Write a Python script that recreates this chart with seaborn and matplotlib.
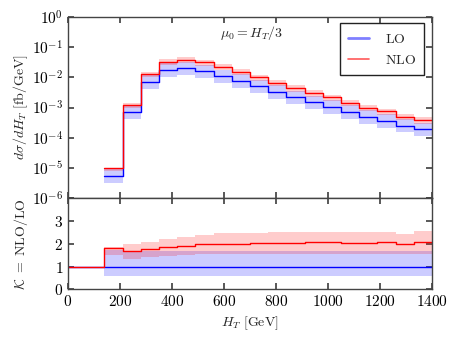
import numpy as np
import pandas as pd
import matplotlib
matplotlib.use("Agg")
import matplotlib.pyplot as plt
from matplotlib.lines import Line2D
import seaborn as sns

# ---------------- data ----------------
bin_edges = [140, 210, 280, 350, 420, 490, 560, 630, 700, 770, 840,
             910, 980, 1050, 1120, 1190, 1260, 1330, 1400]
lo_central = [5.3e-6, 7.2e-4, 7.1e-3, 1.77e-2, 2.0e-2, 1.6e-2, 1.1e-2, 7.7e-3,
              5.0e-3, 3.3e-3, 2.2e-3, 1.5e-3, 1.05e-3, 7.2e-4, 4.9e-4, 3.6e-4,
              2.5e-4, 1.9e-4]
# LO scale band relative to LO central
lo_band_up = [1.71, 1.67, 1.70, 1.68, 1.68, 1.67, 1.66, 1.66, 1.66, 1.66, 1.66,
              1.66, 1.66, 1.66, 1.66, 1.66, 1.66, 1.66]
lo_band_dn = [0.60] * 18
# K factor = NLO/LO and its band
k_central = [1.81, 1.69, 1.78, 1.86, 1.92, 1.97, 1.99, 2.00, 2.02, 2.03, 2.03,
             2.06, 2.06, 2.04, 2.03, 2.07, 2.00, 2.09]
k_band_up = [1.84, 1.97, 2.09, 2.22, 2.31, 2.39, 2.45, 2.47, 2.49, 2.50, 2.50,
             2.53, 2.52, 2.50, 2.50, 2.53, 2.44, 2.57]
k_band_dn = [1.49, 1.33, 1.42, 1.46, 1.50, 1.53, 1.55, 1.55, 1.55, 1.55, 1.55,
             1.55, 1.55, 1.55, 1.55, 1.55, 1.53, 1.55]
x_ticks = [0, 200, 400, 600, 800, 1000, 1200, 1400]
y_ticks_ratio = [0, 1, 2, 3]
labels = ["LO", "NLO"]

# ---------------- derived series ----------------
edges = np.array(bin_edges, dtype=float)
lo = np.array(lo_central)
lo_hi = lo * np.array(lo_band_up)
lo_lo = lo * np.array(lo_band_dn)
k = np.array(k_central)
nlo = lo * k
nlo_hi = lo * np.array(k_band_up)
nlo_lo = lo * np.array(k_band_dn)

def ext(a):
    return np.append(a, a[-1])

BLUE = "#0000ff"
RED = "#ff0000"

sns.set_theme(style="ticks")
plt.rcParams.update({
    "font.family": ["DejaVu Serif"],
    "mathtext.fontset": "cm",
    "axes.edgecolor": "#444444",
    "axes.linewidth": 1.0,
    "xtick.direction": "in",
    "ytick.direction": "in",
    "xtick.top": True,
    "ytick.right": True,
    "xtick.major.size": 4,
    "ytick.major.size": 4,
    "xtick.minor.size": 2,
    "ytick.minor.size": 2,
    "xtick.color": "#444444",
    "ytick.color": "#444444",
    "xtick.labelcolor": "black",
    "ytick.labelcolor": "black",
    "font.size": 10,
})

fig = plt.figure(figsize=(4.54, 3.41), dpi=100)
ax1 = fig.add_axes([0.1498, 0.419, 0.8017, 0.531])
ax2 = fig.add_axes([0.1498, 0.1516, 0.8017, 0.2674], sharex=ax1)

# ---------------- top panel ----------------
ax1.fill_between(edges, ext(lo_lo), ext(lo_hi), step="post",
                 color=BLUE, alpha=0.2, linewidth=0)
ax1.fill_between(edges, ext(nlo_lo), ext(nlo_hi), step="post",
                 color=RED, alpha=0.2, linewidth=0)
df_top = pd.DataFrame({"x": np.concatenate([edges, edges]),
                       "y": np.concatenate([ext(lo), ext(nlo)]),
                       "order": [labels[0]] * len(edges) + [labels[1]] * len(edges)})
sns.lineplot(data=df_top, x="x", y="y", hue="order", palette=[BLUE, RED],
             drawstyle="steps-post", estimator=None, sort=False,
             linewidth=1.0, legend=False, ax=ax1)
ax1.set_yscale("log")
ax1.set_ylim(1e-6, 1)
ax1.set_xlim(0, 1400)
ax1.set_yticks([10.0 ** e for e in range(-6, 1)])
ax1.set_yticklabels([r"$10^{%d}$" % e for e in range(-6, 1)])
ax1.tick_params(axis="x", labelbottom=False)
ax1.set_xlabel("")
ax1.set_ylabel(r"$d\sigma/dH_T\ [\mathrm{fb/GeV}]$", fontsize=10)
ax1.text(585, 0.22, r"$\mu_0 = H_T/3$", fontsize=10)
handles = [Line2D([], [], color=BLUE, alpha=0.5, lw=2.0),
           Line2D([], [], color=RED, alpha=0.65, lw=1.2)]
leg = ax1.legend(handles, [r"$\mathrm{%s}$" % l for l in labels],
                 loc="upper right", bbox_to_anchor=(0.978, 0.965),
                 borderaxespad=0, fancybox=False, framealpha=1,
                 edgecolor="#222222", fontsize=10, handlelength=1.5,
                 borderpad=0.6, labelspacing=0.5, handletextpad=1.1)
leg.get_frame().set_linewidth(1.0)

# ---------------- ratio panel ----------------
ax2.fill_between(edges, ext(np.array(lo_band_dn)), ext(np.array(lo_band_up)),
                 step="post", color=BLUE, alpha=0.2, linewidth=0)
ax2.fill_between(edges, ext(np.array(k_band_dn)), ext(np.array(k_band_up)),
                 step="post", color=RED, alpha=0.2, linewidth=0)
edges_r = np.concatenate([[0.0], edges])
k_r = np.concatenate([[1.0], ext(k)])
df_rat = pd.DataFrame({"x": np.concatenate([[0.0, 1400.0], edges_r]),
                       "y": np.concatenate([[1.0, 1.0], k_r]),
                       "order": [labels[0]] * 2 + [labels[1]] * len(edges_r)})
sns.lineplot(data=df_rat, x="x", y="y", hue="order", palette=[BLUE, RED],
             drawstyle="steps-post", estimator=None, sort=False,
             linewidth=1.0, legend=False, ax=ax2)
ax2.set_ylim(0, 4)
ax2.set_xlim(0, 1400)
ax2.set_yticks([0, 1, 2, 3, 4])
ax2.set_yticklabels([r"$%d$" % v for v in y_ticks_ratio] + [""])
ax2.set_xticks(x_ticks)
ax2.set_xticklabels([r"$%d$" % v for v in x_ticks])
ax2.set_ylabel(r"$\mathcal{K}\ =\ \mathrm{NLO/LO}$", fontsize=10)
ax2.set_xlabel(r"$H_T\ [\mathrm{GeV}]$", fontsize=10)

for a in (ax1, ax2):
    for s in a.spines.values():
        s.set_visible(True)
ax1.yaxis.set_label_coords(-0.105, 0.5)
ax2.yaxis.set_label_coords(-0.105, 0.5)

fig.savefig("out.png", dpi=100)
